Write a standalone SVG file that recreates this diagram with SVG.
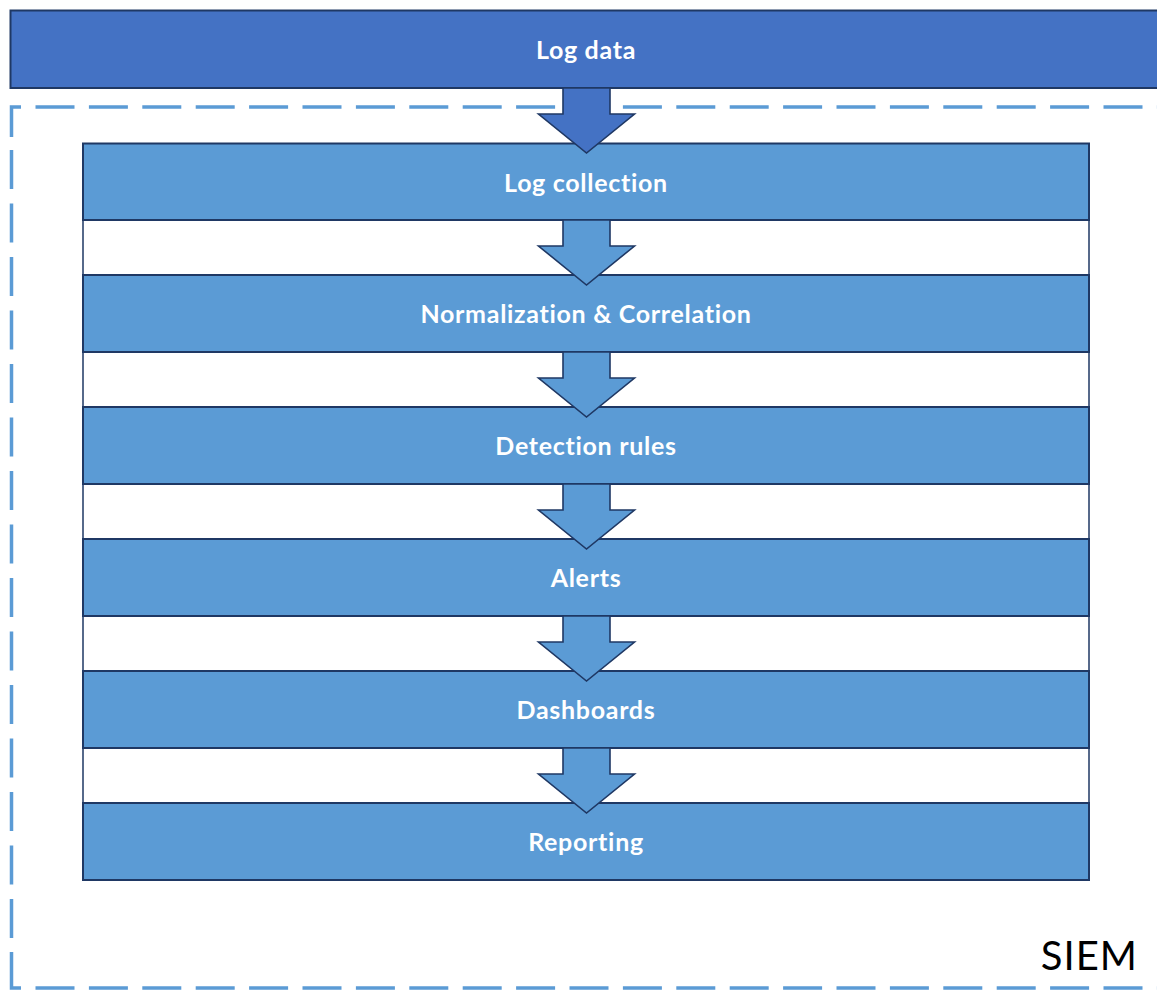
<svg xmlns="http://www.w3.org/2000/svg" width="1157" height="990" viewBox="0 0 1157 990">
  <style>
    .step { fill: #5B9BD5; stroke: #1F3864; stroke-width: 2; }
    .gap { fill: #FFFFFF; stroke: #1F3864; stroke-width: 1.5; }
    .lbl { fill: #FFFFFF; font-family: Lato, "Liberation Sans", sans-serif; font-weight: bold; font-size: 25px; letter-spacing: 0.7px; text-anchor: middle; }
    .dash { fill: none; stroke: #5B9BD5; stroke-width: 3.5; }
    .arrow { fill: #5B9BD5; stroke: #1F3864; stroke-width: 1.6; stroke-linejoin: miter; }
  </style>
  <rect width="1157" height="990" fill="#FFFFFF"/>

  <g id="siem-boundary">
    <path class="dash" d="M11.5 137 V107 H21"/>
    <path class="dash" d="M35.5 107 H1170" stroke-dasharray="39 14.4"/>
    <path class="dash" d="M11.5 150 V938" stroke-dasharray="39 14.5"/>
    <path class="dash" d="M11.5 952 V988 H21"/>
    <path class="dash" d="M35.5 988 H1170" stroke-dasharray="39 14.4"/>
    <text x="1138" y="970" font-family="Lato, 'Liberation Sans', sans-serif" font-size="40" letter-spacing="1" fill="#000000" text-anchor="end">SIEM</text>
  </g>

  <g id="log-data">
    <rect x="10.5" y="10.5" width="1160" height="77.5" fill="#4472C4" stroke="#1F3864" stroke-width="2"/>
    <text class="lbl" x="586" y="58.5">Log data</text>
  </g>

  <g id="spacers">
    <rect class="gap" x="83" y="220" width="1006" height="55"/>
    <rect class="gap" x="83" y="352" width="1006" height="55"/>
    <rect class="gap" x="83" y="484" width="1006" height="55"/>
    <rect class="gap" x="83" y="616" width="1006" height="55"/>
    <rect class="gap" x="83" y="748" width="1006" height="55"/>
  </g>

  <g id="log-collection">
    <rect class="step" x="83" y="143.5" width="1006" height="76.5"/>
    <text class="lbl" x="586" y="191.5">Log collection</text>
  </g>
  <g id="normalization-correlation">
    <rect class="step" x="83" y="275" width="1006" height="77"/>
    <text class="lbl" x="586" y="323">Normalization &amp; Correlation</text>
  </g>
  <g id="detection-rules">
    <rect class="step" x="83" y="407" width="1006" height="77"/>
    <text class="lbl" x="586" y="455">Detection rules</text>
  </g>
  <g id="alerts">
    <rect class="step" x="83" y="539" width="1006" height="77"/>
    <text class="lbl" x="586" y="587">Alerts</text>
  </g>
  <g id="dashboards">
    <rect class="step" x="83" y="671" width="1006" height="77"/>
    <text class="lbl" x="586" y="719">Dashboards</text>
  </g>
  <g id="reporting">
    <rect class="step" x="83" y="803" width="1006" height="77"/>
    <text class="lbl" x="586" y="851">Reporting</text>
  </g>

  <g id="connectors">
    <path class="arrow" d="M563 88 H610 V114 H634.5 L586.5 153 L538.5 114 H563 Z" style="fill:#4472C4"/>
    <path class="arrow" d="M563 220 H610 V246 H634.5 L586.5 285 L538.5 246 H563 Z"/>
    <path class="arrow" d="M563 352 H610 V378 H634.5 L586.5 417 L538.5 378 H563 Z"/>
    <path class="arrow" d="M563 484 H610 V510 H634.5 L586.5 549 L538.5 510 H563 Z"/>
    <path class="arrow" d="M563 616 H610 V642 H634.5 L586.5 681 L538.5 642 H563 Z"/>
    <path class="arrow" d="M563 748 H610 V774 H634.5 L586.5 813 L538.5 774 H563 Z"/>
  </g>
</svg>
